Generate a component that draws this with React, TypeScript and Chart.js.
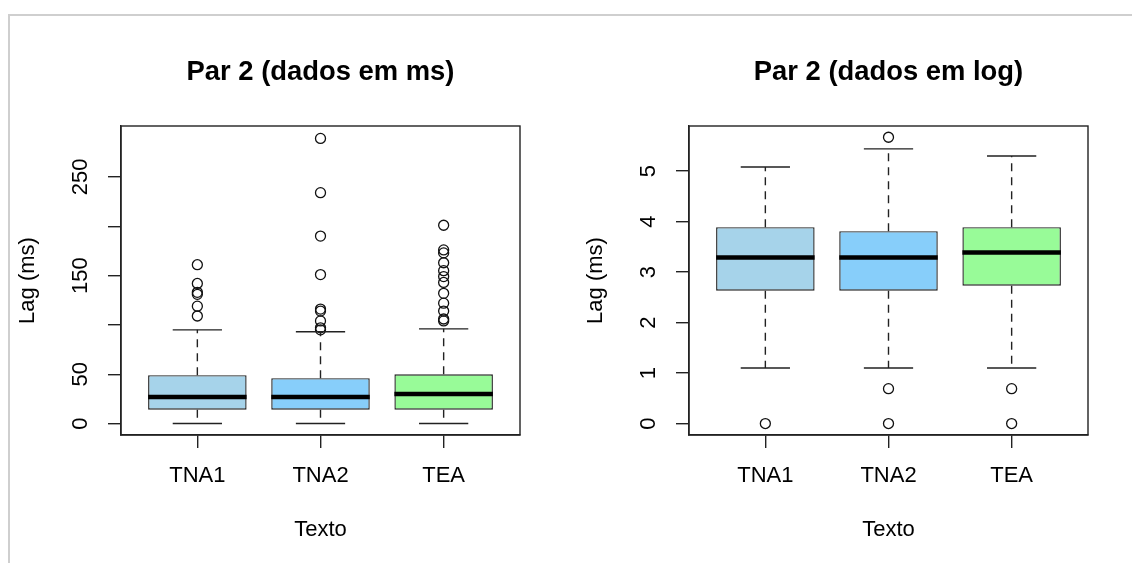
import React, { useEffect, useRef } from 'react';
import { Chart, registerables } from 'chart.js';

Chart.register(...registerables);

// ---------- data ----------
const categories = ['TNA1', 'TNA2', 'TEA'];
const boxColors = ['#A6D3EA', '#87CEFA', '#98FB98'];

// Panel 1: data in ms
const msWhiskerLow = [0, 0, 0];
const msQ1 = [14, 14, 14];
const msMedian = [27, 27, 30];
const msQ3 = [49, 46, 50];
const msWhiskerHigh = [95, 93, 96];
const msOutliersTNA1 = [161, 142, 133, 131, 119, 109];
const msOutliersTNA2 = [289, 234, 190, 151, 116, 114, 104, 97, 95];
const msOutliersTEA = [201, 176, 173, 163, 155, 149, 143, 132, 122, 114, 106, 104];
const msYTicks = [0, 50, 100, 150, 200, 250];
const msYTickLabels = ['0', '50', '', '150', '', '250'];
const msYRange = [-11.6, 301.6];

// Panel 2: data in log
const logWhiskerLow = [1.1, 1.1, 1.1];
const logQ1 = [2.63, 2.63, 2.73];
const logMedian = [3.29, 3.29, 3.39];
const logQ3 = [3.89, 3.81, 3.89];
const logWhiskerHigh = [5.08, 5.44, 5.3];
const logOutliersTNA1 = [0];
const logOutliersTNA2 = [5.67, 0.69, 0];
const logOutliersTEA = [0.69, 0];
const logYTicks = [0, 1, 2, 3, 4, 5];
const logYTickLabels = ['0', '1', '2', '3', '4', '5'];
const logYRange = [-0.227, 5.893];

const xRange = [0.38, 3.62];
const xTicks = [1, 2, 3];

const titles = ['Par 2 (dados em ms)', 'Par 2 (dados em log)'];
const yTitle = 'Lag (ms)';
const xTitle = 'Texto';

// ---------- drawing helpers ----------
const FONT = "'Liberation Sans', Arial, Helvetica, sans-serif";
const INK = '#222222';
const TXT = 22;

const rBoxPlugin = {
  id: 'rbox',
  afterDatasetsDraw(chart: any, _args: any, opts: any) {
    const { ctx, chartArea } = chart;
    const xs = chart.scales.x;
    const ys = chart.scales.y;
    ctx.save();
    ctx.strokeStyle = INK;
    for (let i = 0; i < categories.length; i++) {
      const cx = xs.getPixelForValue(i + 1);
      const hw = Math.abs(xs.getPixelForValue(i + 1 + 0.4) - cx);
      const yLow = ys.getPixelForValue(opts.low[i]);
      const yQ1 = ys.getPixelForValue(opts.q1[i]);
      const yMed = ys.getPixelForValue(opts.med[i]);
      const yQ3 = ys.getPixelForValue(opts.q3[i]);
      const yHigh = ys.getPixelForValue(opts.high[i]);
      ctx.lineWidth = 1.4;
      ctx.setLineDash([8, 6]);
      ctx.beginPath();
      ctx.moveTo(cx, yQ3);
      ctx.lineTo(cx, yHigh);
      ctx.moveTo(cx, yQ1);
      ctx.lineTo(cx, yLow);
      ctx.stroke();
      ctx.setLineDash([]);
      ctx.beginPath();
      ctx.moveTo(cx - hw / 2, yHigh);
      ctx.lineTo(cx + hw / 2, yHigh);
      ctx.moveTo(cx - hw / 2, yLow);
      ctx.lineTo(cx + hw / 2, yLow);
      ctx.stroke();
      ctx.lineWidth = 4.5;
      ctx.strokeStyle = '#000';
      ctx.beginPath();
      ctx.moveTo(cx - hw, yMed);
      ctx.lineTo(cx + hw, yMed);
      ctx.stroke();
      ctx.strokeStyle = INK;
    }
    ctx.lineWidth = 1.4;
    ctx.strokeRect(chartArea.left, chartArea.top, chartArea.right - chartArea.left, chartArea.bottom - chartArea.top);
    ctx.restore();
  },
};

function makeConfig(p: any): any {
  const boxes = categories.map((c, i) => ({ x: i + 1, y: [p.q1[i], p.q3[i]] }));
  const outliers: any[] = [];
  p.outliers.forEach((arr: number[], i: number) => arr.forEach((v) => outliers.push({ x: i + 1, y: v })));
  return {
    type: 'bar',
    data: {
      datasets: [
        {
          type: 'bar',
          data: boxes,
          backgroundColor: boxColors,
          borderColor: INK,
          borderWidth: 1.4,
          barPercentage: 0.8,
          categoryPercentage: 1,
          borderSkipped: false,
        },
        {
          type: 'scatter',
          data: outliers,
          pointRadius: 5,
          pointHoverRadius: 5,
          borderWidth: 1.3,
          borderColor: '#111',
          backgroundColor: 'rgba(255,255,255,0)',
        },
      ],
    },
    options: {
      responsive: false,
      animation: false,
      events: [],
      layout: { padding: { left: 0, right: 44, top: 0, bottom: 0 } },
      plugins: {
        legend: { display: false },
        tooltip: { enabled: false },
        title: {
          display: true,
          text: p.title,
          fullSize: false,
          color: '#000',
          font: { family: FONT, size: 27.4, weight: 'bold', lineHeight: 1 },
          padding: { top: 58.5, bottom: 40.1 },
        },
        rbox: { low: p.low, q1: p.q1, med: p.med, q3: p.q3, high: p.high },
      },
      scales: {
        x: {
          type: 'linear',
          min: xRange[0],
          max: xRange[1],
          offset: false,
          afterBuildTicks: (s: any) => {
            s.ticks = xTicks.map((v) => ({ value: v }));
          },
          afterFit: (s: any) => {
            s.height = 128;
          },
          ticks: {
            autoSkip: false,
            maxRotation: 0,
            minRotation: 0,
            padding: 14.3,
            color: '#000',
            font: { family: FONT, size: TXT },
            callback: (v: number) => categories[Math.round(v) - 1],
          },
          grid: {
            offset: false,
            drawOnChartArea: false,
            drawTicks: true,
            tickLength: 13,
            color: INK,
            lineWidth: 1.4,
          },
          border: { display: true, color: INK, width: 1.4 },
          title: {
            display: true,
            text: xTitle,
            color: '#000',
            font: { family: FONT, size: TXT },
            padding: { top: 0, bottom: 19.8 },
          },
        },
        y: {
          type: 'linear',
          min: p.yRange[0],
          max: p.yRange[1],
          afterBuildTicks: (s: any) => {
            s.ticks = p.yTicks.map((v: number) => ({ value: v }));
          },
          afterFit: (s: any) => {
            s.width = 121;
          },
          ticks: {
            autoSkip: false,
            minRotation: 90,
            maxRotation: 90,
            crossAlign: 'center',
            padding: p.yTickPad,
            color: '#000',
            font: { family: FONT, size: TXT },
            callback: (_v: number, i: number) => p.yTickLabels[i],
          },
          grid: {
            drawOnChartArea: false,
            drawTicks: true,
            tickLength: 13,
            color: INK,
            lineWidth: 1.4,
          },
          border: { display: true, color: INK, width: 1.4 },
          title: {
            display: true,
            text: yTitle,
            color: '#000',
            font: { family: FONT, size: TXT },
            padding: { top: 14.8, bottom: 0 },
          },
        },
      },
    },
    plugins: [rBoxPlugin],
  };
}

export default function App() {
  const leftRef = useRef<HTMLCanvasElement>(null);
  const rightRef = useRef<HTMLCanvasElement>(null);

  useEffect(() => {
    const c1 = new Chart(
      leftRef.current as HTMLCanvasElement,
      makeConfig({
        title: titles[0],
        low: msWhiskerLow,
        q1: msQ1,
        med: msMedian,
        q3: msQ3,
        high: msWhiskerHigh,
        outliers: [msOutliersTNA1, msOutliersTNA2, msOutliersTEA],
        yTicks: msYTicks,
        yTickLabels: msYTickLabels,
        yRange: msYRange,
        yTickPad: 8.6,
      })
    );
    const c2 = new Chart(
      rightRef.current as HTMLCanvasElement,
      makeConfig({
        title: titles[1],
        low: logWhiskerLow,
        q1: logQ1,
        med: logMedian,
        q3: logQ3,
        high: logWhiskerHigh,
        outliers: [logOutliersTNA1, logOutliersTNA2, logOutliersTEA],
        yTicks: logYTicks,
        yTickLabels: logYTickLabels,
        yRange: logYRange,
        yTickPad: 20.9,
      })
    );
    return () => {
      c1.destroy();
      c2.destroy();
    };
  }, []);

  return (
    <div style={{ position: 'fixed', left: 0, top: 0, width: 1132, height: 563, background: '#fff', overflow: 'hidden' }}>
      <div
        style={{
          position: 'absolute',
          left: 8,
          top: 14,
          right: 0,
          bottom: -4,
          borderTop: '2px solid #cfcfcf',
          borderLeft: '2px solid #cfcfcf',
        }}
      />
      <canvas ref={leftRef} width={564} height={563} style={{ position: 'absolute', left: 0, top: 0 }} />
      <canvas ref={rightRef} width={564} height={563} style={{ position: 'absolute', left: 568, top: 0 }} />
    </div>
  );
}
